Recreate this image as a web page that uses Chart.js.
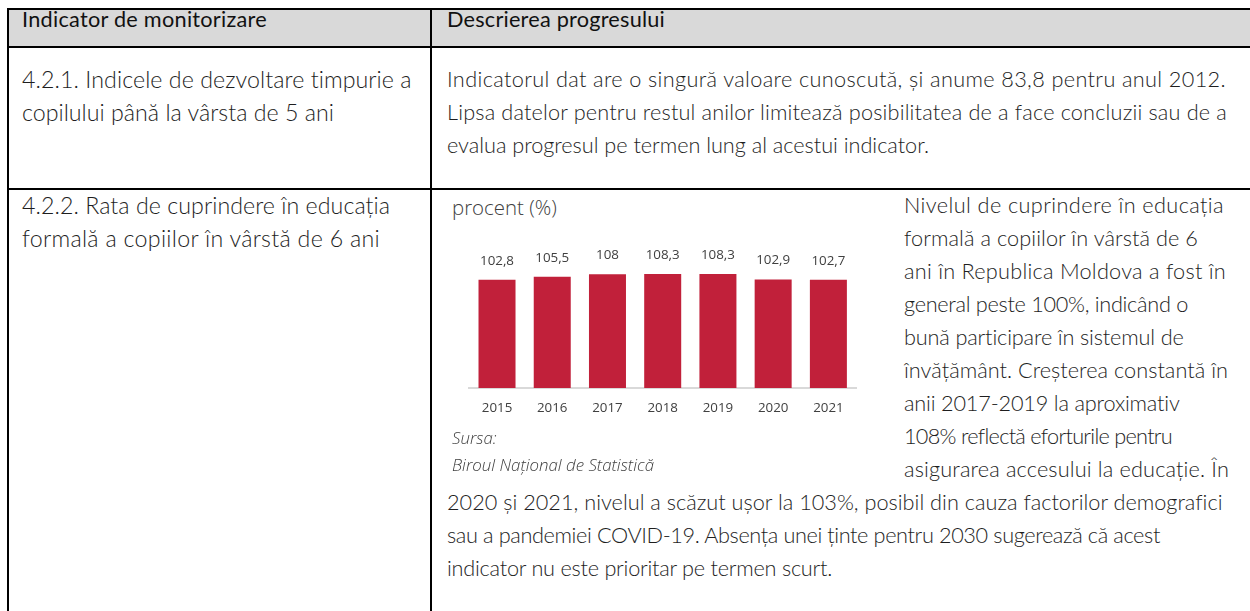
<!DOCTYPE html>
<html>
<head>
<meta charset="utf-8">
<script src="https://cdn.jsdelivr.net/npm/chart.js@4/dist/chart.umd.min.js"></script>
<style>
  html,body{margin:0;padding:0;background:#fff;}
  body{width:1250px;height:611px;position:relative;overflow:hidden;font-family:Lato,"Open Sans",sans-serif;color:#1e1e1e;}
  .ln{position:absolute;background:#000;}
  .hdr{position:absolute;left:9px;top:10px;width:1241px;height:36px;background:#d9d9d9;}
  .t{position:absolute;white-space:nowrap;line-height:33px;font-weight:300;}
  .t span{display:block;}
  .h{font-weight:400;color:#111;}
  .c{position:absolute;white-space:nowrap;color:#404040;font-family:"Open Sans",sans-serif;font-weight:300;}
  #chartWrap{position:absolute;left:440px;top:230px;width:440px;height:198px;}
</style>
</head>
<body>
<div class="hdr"></div>
<div class="ln" style="left:7px;top:8px;width:1243px;height:2px;"></div>
<div class="ln" style="left:7px;top:46px;width:1243px;height:2px;"></div>
<div class="ln" style="left:7px;top:188px;width:1243px;height:2px;"></div>
<div class="ln" style="left:7px;top:8px;width:2px;height:603px;"></div>
<div class="ln" style="left:430px;top:8px;width:2px;height:603px;"></div>

<div class="t h" style="left:22px;top:3px;"><span data-w="245">Indicator de monitorizare</span></div>
<div class="t h" style="left:447px;top:3px;"><span data-w="218">Descrierea progresului</span></div>

<div class="t left" style="left:22px;top:63px;"><span data-w="390">4.2.1. Indicele de dezvoltare timpurie a</span><span data-w="312">copilului până la vârsta de 5 ani</span></div>
<div class="t" style="left:447px;top:63px;"><span data-w="779">Indicatorul dat are o singură valoare cunoscută, și anume 83,8 pentru anul 2012.</span><span data-w="780">Lipsa datelor pentru restul anilor limitează posibilitatea de a face concluzii sau de a</span><span data-w="482">evalua progresul pe termen lung al acestui indicator.</span></div>

<div class="t left" style="left:22px;top:189px;"><span data-w="368">4.2.2. Rata de cuprindere în educația</span><span data-w="358">formală a copiilor în vârstă de 6 ani</span></div>
<div class="t" style="left:904px;top:189px;"><span data-w="320">Nivelul de cuprindere în educația</span><span data-w="294">formală a copiilor în vârstă de 6</span><span data-w="322">ani în Republica Moldova a fost în</span><span data-w="284">general peste 100%, indicând o</span><span data-w="280">bună participare în sistemul de</span><span data-w="324">învățământ. Creșterea constantă în</span><span data-w="276">anii 2017-2019 la aproximativ</span><span data-w="268">108% reflectă eforturile pentru</span><span data-w="325">asigurarea accesului la educație. În</span></div>
<div class="t" style="left:447px;top:486px;"><span data-w="775">2020 și 2021, nivelul a scăzut ușor la 103%, posibil din cauza factorilor demografici</span><span data-w="713">sau a pandemiei COVID-19. Absența unei ținte pentru 2030 sugerează că acest</span><span data-w="385">indicator nu este prioritar pe termen scurt.</span></div>

<div class="c" id="proc" style="left:452px;top:196px;line-height:22px;">procent (%)</div>
<div id="chartWrap"><canvas id="chart" width="440" height="198"></canvas></div>
<div class="c src" style="left:452px;top:429px;line-height:18px;font-style:italic;">Sursa:</div>
<div class="c src" id="biroul" style="left:452px;top:456px;line-height:18px;font-style:italic;">Biroul Național de Statistică</div>

<script>
const categories = ['2015','2016','2017','2018','2019','2020','2021'];
const values = [102.8, 105.5, 108, 108.3, 108.3, 102.9, 102.7];

const mctx = document.createElement('canvas').getContext('2d');
function fitSize(text, font, target) {
  mctx.font = font.replace('SIZE', '100px');
  return 100 * target / mctx.measureText(text).width;
}

(function(){
  const refs = [
    ['Indicatorul dat are o singură valoare cunoscută, și anume 83,8 pentru anul 2012.', 779],
    ['Lipsa datelor pentru restul anilor limitează posibilitatea de a face concluzii sau de a', 780],
    ['evalua progresul pe termen lung al acestui indicator.', 482],
    ['2020 și 2021, nivelul a scăzut ușor la 103%, posibil din cauza factorilor demografici', 775],
    ['sau a pandemiei COVID-19. Absența unei ținte pentru 2030 sugerează că acest', 713],
    ['indicator nu este prioritar pe termen scurt.', 385]
  ];
  mctx.font = '300 100px Lato';
  let nat = 0, tgt = 0;
  refs.forEach(r => { nat += mctx.measureText(r[0]).width; tgt += r[1]; });
  const fs = 100 * tgt / nat;
  document.querySelectorAll('.t').forEach(e => {
    const f = e.classList.contains('left') ? fs * 1.07 : fs;
    e.style.fontSize = f.toFixed(2) + 'px';
  });
  document.querySelectorAll('.t span').forEach(s => {
    const inner = document.createElement('span');
    inner.style.display = 'inline';
    inner.textContent = s.textContent;
    s.textContent = '';
    s.appendChild(inner);
    const w = inner.getBoundingClientRect().width;
    const n = inner.textContent.length;
    const ls = (parseFloat(s.dataset.w) - w) / n;
    s.style.letterSpacing = ls.toFixed(3) + 'px';
  });
  document.getElementById('proc').style.fontSize = fitSize('procent (%)', '300 SIZE "Open Sans"', 105).toFixed(2) + 'px';
  const bs = fitSize('Biroul Național de Statistică', 'italic 300 SIZE "Open Sans"', 202).toFixed(2) + 'px';
  document.querySelectorAll('.src').forEach(e => e.style.fontSize = bs);
})();

const tickSize = fitSize('2015', '400 SIZE "Open Sans"', 30.5);
const labelSize = fitSize('102,8', '400 SIZE "Open Sans"', 34);

const labelPlugin = {
  id: 'barLabels',
  afterDatasetsDraw(chart) {
    const ctx = chart.ctx;
    const meta = chart.getDatasetMeta(0);
    ctx.save();
    ctx.font = '400 ' + labelSize.toFixed(2) + 'px "Open Sans"';
    ctx.fillStyle = '#404040';
    ctx.textAlign = 'center';
    ctx.textBaseline = 'middle';
    meta.data.forEach((bar, i) => {
      ctx.fillText(String(values[i]).replace('.', ','), bar.x, bar.y - 19);
    });
    ctx.restore();
  }
};

new Chart(document.getElementById('chart'), {
  type: 'bar',
  data: {
    labels: categories,
    datasets: [{
      data: values,
      backgroundColor: '#c1203a',
      borderWidth: 0,
      categoryPercentage: 1,
      barPercentage: 0.67
    }]
  },
  options: {
    responsive: false,
    animation: false,
    devicePixelRatio: 1,
    layout: { padding: { left: 29.4, right: 24, top: 0, bottom: 0 } },
    plugins: { legend: { display: false }, tooltip: { enabled: false } },
    scales: {
      y: { display: false, min: 0, max: 150 },
      x: {
        grid: { display: false, drawTicks: false },
        border: { display: true, color: '#d9d9d9', width: 2 },
        ticks: { color: '#404040', font: { family: 'Open Sans', size: tickSize, weight: 400 }, padding: 12 }
      }
    }
  },
  plugins: [labelPlugin]
});
</script>
</body>
</html>
